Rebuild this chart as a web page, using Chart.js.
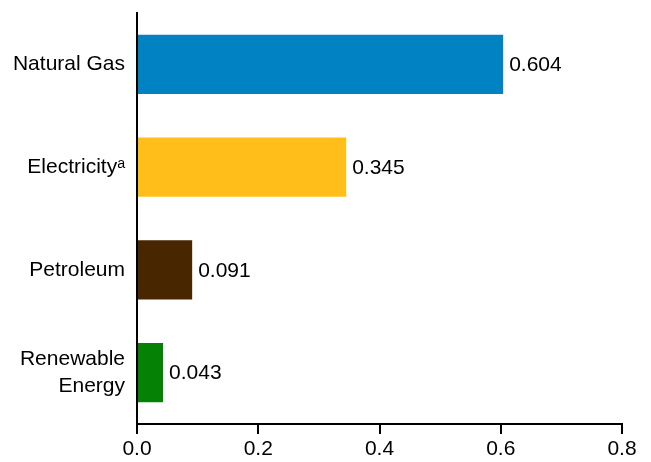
<!DOCTYPE html>
<html><head><meta charset="utf-8">
<script src="https://cdn.jsdelivr.net/npm/chart.js@4"></script>
<style>html,body{margin:0;padding:0;background:#fff}#wrap{width:651px;height:462px}</style>
</head><body><div id="wrap"><canvas id="c"></canvas></div>
<script>
const categories = [["Natural Gas"], ["Electricity\u1D43"], ["Petroleum"], ["Renewable", "Energy"]];
const values = [0.604, 0.345, 0.091, 0.043];
const valueLabels = ["0.604", "0.345", "0.091", "0.043"];
const barColors = ["#0082C3", "#FFBE1A", "#472600", "#058205"];
const xTicks = [0, 0.2, 0.4, 0.6, 0.8];

const FONT = '"Liberation Sans", Arial, sans-serif';

const valueLabelPlugin = {
  id: 'valueLabels',
  afterDatasetsDraw(chart) {
    const ctx = chart.ctx;
    const meta = chart.getDatasetMeta(0);
    ctx.save();
    ctx.font = '21px ' + FONT;
    ctx.fillStyle = '#000';
    ctx.textAlign = 'left';
    ctx.textBaseline = 'middle';
    meta.data.forEach((bar, i) => {
      ctx.fillText(valueLabels[i], bar.x + 6, bar.y + 1);
    });
    ctx.restore();
  }
};

new Chart(document.getElementById('c'), {
  type: 'bar',
  data: {
    labels: categories,
    datasets: [{ data: values, backgroundColor: barColors, borderWidth: 0,
      barPercentage: 0.72, categoryPercentage: 0.8 }]
  },
  options: {
    indexAxis: 'y',
    responsive: true,
    maintainAspectRatio: false,
    animation: false,
    layout: { padding: { left: 0, right: 29, top: 13, bottom: 0 } },
    plugins: { legend: { display: false }, tooltip: { enabled: false } },
    scales: {
      x: {
        min: 0, max: 0.8,
        afterBuildTicks(scale) { scale.ticks = xTicks.map(v => ({ value: v })); },
        afterFit(scale) { scale.height = 38; scale.paddingLeft = 0; scale.paddingRight = 0; },
        grid: { display: true, drawOnChartArea: false, drawTicks: true, tickLength: 10, color: '#000', lineWidth: 2 },
        border: { display: true, color: '#000', width: 2 },
        ticks: {
          color: '#000', padding: 3,
          font: { family: FONT, size: 21 },
          callback: (v) => Number(v).toFixed(1)
        }
      },
      y: {
        afterFit(scale) { scale.width = 137; scale.paddingTop = 0; scale.paddingBottom = 0; },
        grid: { display: false, drawTicks: false },
        border: { display: true, color: '#000', width: 2 },
        ticks: {
          color: '#000', padding: 12,
          font: { family: FONT, size: 21, lineHeight: 1.25 }
        }
      }
    }
  },
  plugins: [valueLabelPlugin]
});
</script></body></html>
